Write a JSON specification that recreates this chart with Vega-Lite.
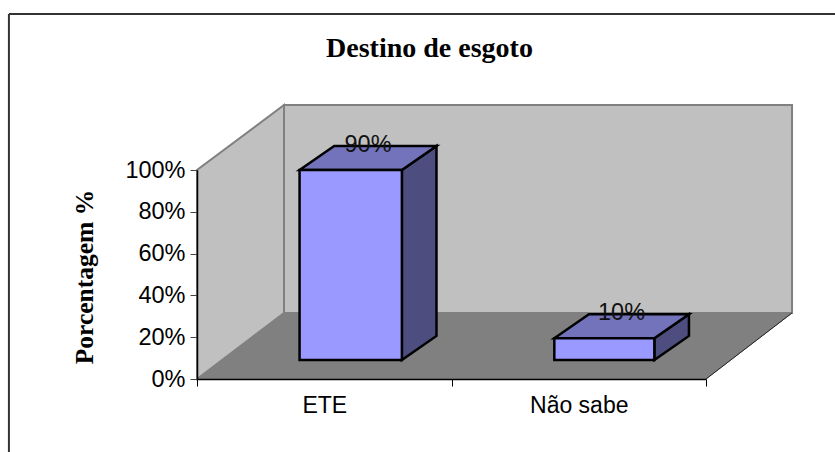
{
"$schema":"https://vega.github.io/schema/vega-lite/v6.json",
"width":509,"height":209,
"autosize":{"type":"none"},
"padding":{"left":197,"top":170,"right":129,"bottom":73},
"background":"white",
"view":{"stroke":null},
"title":{"text":"Destino de esgoto","font":"Liberation Serif","fontWeight":"bold","fontSize":28,"color":"black","anchor":"middle","frame":"group","dx":-22,"offset":-50},
"datasets":{
"frame":[{"x":-0.739,"x2":-0.739,"y":1.746,"y2":-0.349},{"x":-0.739,"x2":2.507,"y":1.746,"y2":1.746}],
"vfaces":[
{"face":"left wall","part":"wall","x":0,"y":0,"y2":1},
{"face":"left wall","part":"wall","x":0.342,"y":0.316,"y2":1.311}],
"backwall":[{"x":0.342,"x2":2.338,"y":0.316,"y2":1.311}],
"floor":[
{"part":"floor","y":0,"x":0,"x2":2},
{"part":"floor","y":0.316,"x":0.342,"x2":2.338}],
"edge":[{"x":2,"x2":2.338,"y":0,"y2":0.316}],
"front":[
{"name":"ETE","part":"front","x":0.403,"x2":0.805,"y":0.091,"y2":1.0},
{"name":"Não sabe","part":"front","x":1.404,"x2":1.797,"y":0.091,"y2":0.195}],
"top":[
{"name":"ETE","part":"top","y":1.0,"x":0.403,"x2":0.805},
{"name":"ETE","part":"top","y":1.115,"x":0.539,"x2":0.941},
{"name":"Não sabe","part":"top","y":0.195,"x":1.404,"x2":1.797},
{"name":"Não sabe","part":"top","y":0.31,"x":1.54,"x2":1.933}],
"side":[
{"name":"ETE","part":"side","x":0.805,"y":0.091,"y2":1.0},
{"name":"ETE","part":"side","x":0.941,"y":0.206,"y2":1.115},
{"name":"Não sabe","part":"side","x":1.797,"y":0.091,"y2":0.195},
{"name":"Não sabe","part":"side","x":1.933,"y":0.206,"y2":0.31}],
"labels":[
{"name":"ETE","value":0.9,"x":0.672,"y":1.12},
{"name":"Não sabe","value":0.1,"x":1.668,"y":0.317}]
},
"encoding":{
  "x":{"field":"x","type":"quantitative","stack":null,"scale":{"domain":[0,2],"nice":false,"zero":false},
   "axis":{"title":null,"values":[0,0.5,1,1.5,2],"grid":false,"domainColor":"black","domainWidth":1.5,"tickColor":"black","tickSize":7,"tickOpacity":{"condition":{"test":"datum.value % 1 != 0","value":0},"value":1},"labelExpr":"datum.value==0.5?'ETE':(datum.value==1.5?'Não sabe':'')","labelFont":"Liberation Sans","labelFontSize":23,"labelColor":"black","labelPadding":8,"labelOverlap":false,"labelFlush":false,"zindex":1}},
  "y":{"field":"y","type":"quantitative","stack":null,"scale":{"domain":[0,1],"nice":false,"zero":false},
   "axis":{"title":"Porcentagem  %","titleFont":"Liberation Serif","titleFontWeight":"bold","titleFontSize":25.5,"titleColor":"black","titleX":-100,"titleY":106.5,"values":[0,0.2,0.4,0.6,0.8,1],"format":".0%","grid":false,"domainColor":"black","domainWidth":1.5,"tickColor":"#444","tickSize":7,"labelFont":"Liberation Sans","labelFontSize":23.5,"labelColor":"black","labelPadding":5,"zindex":1}}
},
"layer":[
{"data":{"name":"vfaces"},
 "mark":{"type":"area","orient":"vertical","fill":"#c0c0c0","stroke":"#808080","strokeWidth":2},
 "encoding":{"y2":{"field":"y2"},"detail":{"field":"face"}}},
{"data":{"name":"backwall"},
 "mark":{"type":"rect","fill":"#c0c0c0","stroke":"#808080","strokeWidth":2},
 "encoding":{"x2":{"field":"x2"},"y2":{"field":"y2"}}},
{"data":{"name":"floor"},
 "mark":{"type":"area","orient":"horizontal","fill":"#808080","stroke":"#808080","strokeWidth":1},
 "encoding":{"x2":{"field":"x2"}}},
{"data":{"name":"edge"},
 "mark":{"type":"rule","color":"#222","strokeWidth":1},
 "encoding":{"x2":{"field":"x2"},"y2":{"field":"y2"}}},
{"data":{"name":"side"},
 "mark":{"type":"area","orient":"vertical","fill":"#4d4d80","stroke":"black","strokeWidth":2.5},
 "encoding":{"y2":{"field":"y2"},"detail":{"field":"name"}}},
{"data":{"name":"top"},
 "mark":{"type":"area","orient":"horizontal","fill":"#7373bb","stroke":"black","strokeWidth":2.5},
 "encoding":{"x2":{"field":"x2"},"detail":{"field":"name"}}},
{"data":{"name":"front"},
 "mark":{"type":"rect","fill":"#9999ff","stroke":"black","strokeWidth":2.5},
 "encoding":{"x2":{"field":"x2"},"y2":{"field":"y2"}}},
{"data":{"name":"labels"},
 "mark":{"type":"text","font":"Liberation Sans","fontSize":23.5,"color":"#111","baseline":"middle","align":"center"},
 "encoding":{"text":{"field":"value","type":"quantitative","format":".0%"}}},
{"data":{"name":"frame"},
 "mark":{"type":"rule","color":"#333","strokeWidth":2},
 "encoding":{"x2":{"field":"x2"},"y2":{"field":"y2"}}}
]
}
